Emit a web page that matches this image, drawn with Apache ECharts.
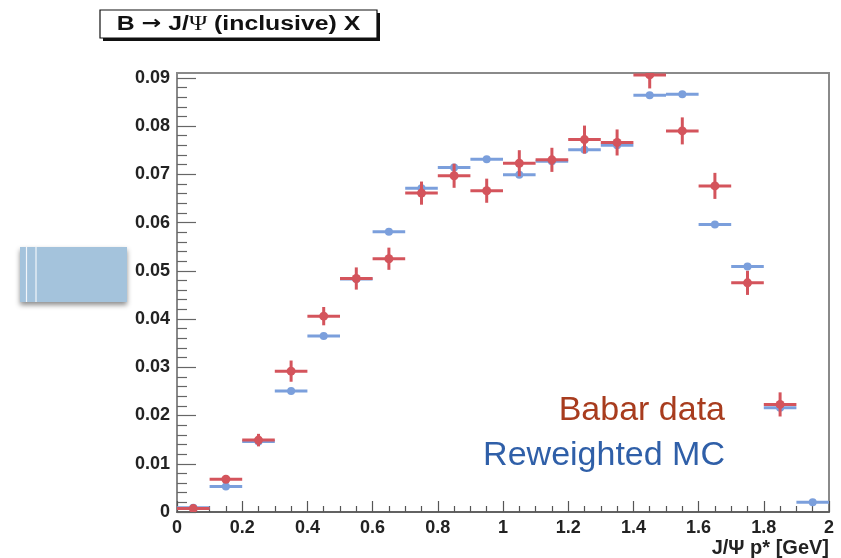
<!DOCTYPE html>
<html>
<head>
<meta charset="utf-8">
<script src="https://cdn.jsdelivr.net/npm/echarts@6/dist/echarts.min.js"></script>
<style>
  html, body { margin: 0; padding: 0; background: #ffffff; }
  #chart { width: 841px; height: 558px; }
</style>
</head>
<body>
<div id="chart"></div>
<script>
// ---- data ----
const binCenters = [0.05, 0.15, 0.25, 0.35, 0.45, 0.55, 0.65, 0.75, 0.85, 0.95,
                    1.05, 1.15, 1.25, 1.35, 1.45, 1.55, 1.65, 1.75, 1.85, 1.95];
const binHalfWidth = 0.05;
const babarData = [0.0007, 0.0068, 0.0149, 0.0292, 0.0406, 0.0484, 0.0525, 0.0661, 0.0697, 0.0666,
                   0.0723, 0.0730, 0.0772, 0.0766, 0.0906, 0.0790, 0.0676, 0.0475, 0.0223, null];
const babarErr  = [0.0003, 0.0007, 0.0013, 0.0022, 0.0019, 0.0023, 0.0023, 0.0024, 0.0025, 0.0025,
                   0.0027, 0.0025, 0.0029, 0.0027, 0.0028, 0.0028, 0.0027, 0.0025, 0.0025, null];
const mcData    = [0.0009, 0.0053, 0.0146, 0.0251, 0.0365, 0.0483, 0.0581, 0.0671, 0.0714, 0.0731,
                   0.0699, 0.0727, 0.0751, 0.0760, 0.0864, 0.0866, 0.0596, 0.0509, 0.0216, 0.0020];
const mcErr     = [0, 0, 0, 0, 0, 0, 0, 0, 0, 0, 0, 0, 0, 0, 0, 0, 0, 0, 0, 0];
const yMajorTicks = [0, 0.01, 0.02, 0.03, 0.04, 0.05, 0.06, 0.07, 0.08, 0.09];
const yMinorTicks = [];
for (let i = 1; i <= 45; i++) { if (i % 5 !== 0) yMinorTicks.push(+(i * 0.002).toFixed(3)); }
const xAxisTitle = 'J/\u03A8 p* [GeV]';
const legendData = 'Babar data';
const legendMC = 'Reweighted MC';

// ---- chart ----
const chart = echarts.init(document.getElementById('chart'), null, { renderer: 'canvas' });
const FONT = '"Liberation Sans", Helvetica, Arial, sans-serif';

function toPoints(vals, errs) {
  const out = [];
  vals.forEach((v, i) => { if (v !== null) out.push([binCenters[i], v, errs[i]]); });
  return out;
}

function makeRender(color, lw, radius) {
  return function (params, api) {
    const x = api.value(0), y = api.value(1), e = api.value(2);
    const c = api.coord([x, y]);
    const l = api.coord([x - binHalfWidth, y]);
    const r = api.coord([x + binHalfWidth, y]);
    const children = [
      { type: 'line', shape: { x1: l[0], y1: c[1], x2: r[0], y2: c[1] },
        style: { stroke: color, lineWidth: lw } }
    ];
    if (e > 0) {
      const t = api.coord([x, y + e]);
      const b = api.coord([x, y - e]);
      children.push({ type: 'line', shape: { x1: c[0], y1: t[1], x2: c[0], y2: b[1] },
        style: { stroke: color, lineWidth: lw } });
    }
    children.push({ type: 'circle', shape: { cx: c[0], cy: c[1], r: radius },
      style: { fill: color } });
    return { type: 'group', children: children };
  };
}

const option = {
  backgroundColor: '#ffffff',
  animation: false,
  grid: {
    left: 177, right: 12, top: 73, bottom: 44,
    show: true, borderColor: '#8a8a8a', borderWidth: 2, backgroundColor: 'transparent'
  },
  xAxis: {
    type: 'value', min: 0, max: 2, interval: 0.2,
    name: xAxisTitle, nameLocation: 'end',
    nameGap: 0,
    nameTextStyle: { fontFamily: FONT, fontWeight: 'bold', fontSize: 20, color: '#222',
      align: 'right', verticalAlign: 'top', padding: [26, 0, 0, 0] },
    axisLine: { show: true, onZero: false, lineStyle: { color: '#555', width: 1.5 } },
    axisTick: { show: true, inside: true, length: 11, lineStyle: { color: '#555', width: 1.2 } },
    minorTick: { show: true, splitNumber: 4, length: 6, lineStyle: { color: '#555', width: 1.2 } },
    axisLabel: { fontFamily: FONT, fontWeight: 'bold', fontSize: 18, color: '#222', margin: 7,
      formatter: v => String(+v.toFixed(1)) },
    splitLine: { show: false }, minorSplitLine: { show: false }
  },
  yAxis: [
    {
      type: 'value', min: 0, max: 0.091,
      axisLine: { show: true, onZero: false, lineStyle: { color: '#888', width: 1.5 } },
      axisTick: { show: true, inside: true, length: 19, customValues: yMajorTicks,
        lineStyle: { color: '#666', width: 1.2 } },
      axisLabel: { fontFamily: FONT, fontWeight: 'bold', fontSize: 18, color: '#222', margin: 7,
        customValues: yMajorTicks,
        formatter: v => (v === 0 ? '0' : v.toFixed(2)) },
      splitLine: { show: false }
    },
    {
      type: 'value', min: 0, max: 0.091, position: 'left',
      axisLine: { show: false },
      axisTick: { show: true, inside: true, length: 10, customValues: yMinorTicks,
        lineStyle: { color: '#666', width: 1.2 } },
      axisLabel: { show: false },
      splitLine: { show: false }
    }
  ],
  series: [
    {
      name: legendMC, type: 'custom', clip: true, yAxisIndex: 0,
      renderItem: makeRender('#7b9fdc', 3, 4),
      data: toPoints(mcData, mcErr), z: 3
    },
    {
      name: legendData, type: 'custom', clip: true, yAxisIndex: 0,
      renderItem: makeRender('#d4545c', 3, 4.5),
      data: toPoints(babarData, babarErr), z: 4
    }
  ],
  graphic: [
    // title box with shadow
    { type: 'rect', shape: { x: 103, y: 13, width: 277, height: 28 }, style: { fill: '#111' }, z: 10 },
    { type: 'rect', shape: { x: 100, y: 10, width: 277, height: 28 },
      style: { fill: '#fff', stroke: '#111', lineWidth: 1.2 }, z: 11 },
    { type: 'text', x: 238.5, y: 24.5, z: 12, scaleX: 1.24,
      style: {
        text: '{a|B }{arr|\u2192}{a| J/}{psi|\u03A8}{a| (inclusive) X}',
        textAlign: 'center', textVerticalAlign: 'middle',
        rich: {
          a: { font: 'bold 20px ' + FONT, fill: '#111' },
          arr: { font: 'bold 19px "DejaVu Sans", sans-serif', fill: '#111' },
          psi: { font: '20px "Liberation Serif", "DejaVu Serif", serif', fill: '#111' }
        }
      } },
    // decorative blue panel on the left
    { type: 'rect', shape: { x: 20, y: 247, width: 107, height: 55 },
      style: { fill: '#a4c3dc', shadowBlur: 5, shadowOffsetY: 3, shadowColor: 'rgba(0,0,0,0.45)' }, z: 5 },
    { type: 'line', shape: { x1: 26.5, y1: 247, x2: 26.5, y2: 302 },
      style: { stroke: '#f2f6fa', lineWidth: 1.2 }, z: 6 },
    { type: 'line', shape: { x1: 36, y1: 247, x2: 36, y2: 302 },
      style: { stroke: '#f2f6fa', lineWidth: 1.2 }, z: 6 },
    // legend texts
    { type: 'text', x: 725, y: 410.5, z: 12,
      style: { text: legendData, font: '34px ' + FONT, fill: '#a83c1e',
        textAlign: 'right', textVerticalAlign: 'middle' } },
    { type: 'text', x: 725, y: 456, z: 12,
      style: { text: legendMC, font: '34px ' + FONT, fill: '#2f5fa8',
        textAlign: 'right', textVerticalAlign: 'middle' } }
  ]
};
chart.setOption(option);
</script>
</body>
</html>
